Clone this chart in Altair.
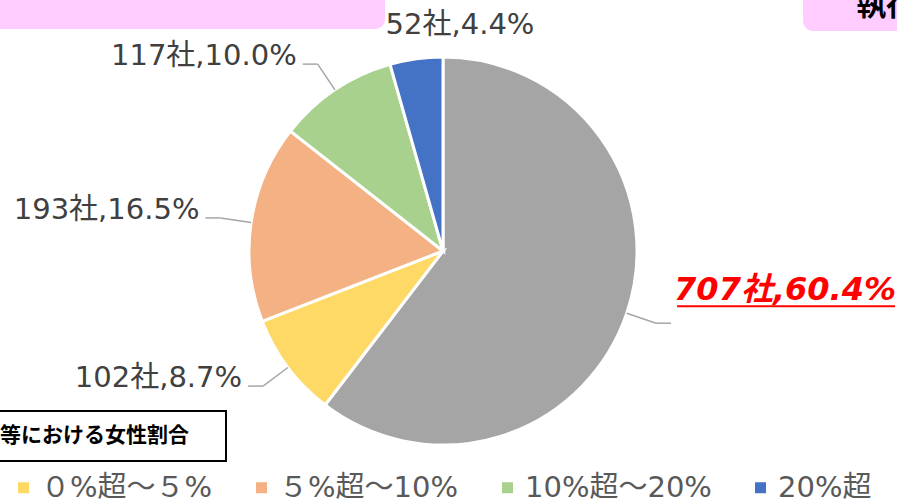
import altair as alt
import pandas as pd

# ---- data ----
categories = ["0%", "０%超～５%", "５%超～10%", "10%超～20%", "20%超"]
companies = [707, 102, 193, 117, 52]
shares = [60.4, 8.7, 16.5, 10.0, 4.4]
colors = ["#A5A5A5", "#FFD966", "#F4B183", "#A9D18E", "#4472C4"]
legend_items = categories[1:]
header_right = "執行役員等"
box_title = "等における女性割合"

labels = [f"{n}社,{p:.1f}%" for n, p in zip(companies, shares)]
df = pd.DataFrame({
    "cat": categories,
    "n": companies,
    "pct": shares,
    "order": list(range(len(categories))),
    "label": labels,
})
one = pd.DataFrame({"a": [0]})

# ---- layout ----
W, H = 897, 501
CX, CY, R = 443, 251, 194
FONT = "DejaVu Sans, Noto Sans CJK JP"
JP = "Noto Sans CJK JP"

base = alt.Chart(df)

pie = base.mark_arc(radius=R, stroke="white", strokeWidth=3).encode(
    theta=alt.Theta("pct:Q", stack=True),
    order=alt.Order("order:Q", sort="ascending"),
    color=alt.Color(
        "cat:N",
        scale=alt.Scale(domain=categories, range=colors),
        legend=alt.Legend(
            values=legend_items, orient="none", legendX=9, legendY=473,
            direction="horizontal", title=None, symbolType="square",
            symbolSize=121, symbolStrokeWidth=0, labelFont=FONT,
            labelFontSize=29, labelColor="#595959", labelOffset=3,
            columnPadding=34, labelLimit=500, padding=0,
        ),
    ),
    x=alt.value(CX),
    y=alt.value(CY),
)

geo = (
    base.transform_window(cum="sum(pct)", sort=[alt.SortField("order")], frame=[None, 0])
    .transform_joinaggregate(total="sum(pct)")
    .transform_calculate(ang="2*PI*(datum.cum - datum.pct/2)/datum.total")
    .transform_calculate(s="sin(datum.ang)")
    .transform_calculate(c="cos(datum.ang)")
    .transform_calculate(side="datum.s >= 0 ? 1 : -1")
    .transform_calculate(x0=f"{CX} + {R}*datum.s")
    .transform_calculate(y0=f"{CY} - {R}*datum.c")
    .transform_calculate(x1=f"{CX} + {R + 31}*datum.s")
    .transform_calculate(y1=f"{CY} - {R + 31}*datum.c")
    .transform_calculate(x2="datum.x1 + 15*datum.side")
    .transform_calculate(tx="datum.x1 + 21*datum.side")
)

def px(f):
    return alt.X(f, scale=None, axis=None)

def py(f):
    return alt.Y(f, scale=None, axis=None)

sides = geo.transform_filter("abs(datum.s) >= 0.2")
lead1 = sides.mark_rule(color="#A6A6A6", strokeWidth=1.5).encode(
    x=px("x0:Q"), y=py("y0:Q"), x2="x1:Q", y2="y1:Q")
lead2 = sides.mark_rule(color="#A6A6A6", strokeWidth=1.5).encode(
    x=px("x1:Q"), y=py("y1:Q"), x2="x2:Q", y2="y1:Q")

left_text = geo.transform_filter("datum.s <= -0.2").mark_text(
    align="right", baseline="middle", dy=-8, font=FONT, fontSize=29, color="#404040"
).encode(x=px("tx:Q"), y=py("y1:Q"), text="label:N")

top_text = geo.transform_filter("abs(datum.s) < 0.2").mark_text(
    align="center", baseline="middle", dx=48, dy=-3, font=FONT, fontSize=29, color="#404040"
).encode(x=px("x1:Q"), y=py("y1:Q"), text="label:N")

right = geo.transform_filter("datum.s >= 0.2")
right_text = right.mark_text(
    align="left", baseline="middle", dx=-3, dy=-33, font=FONT, fontSize=32,
    fontWeight="bold", fontStyle="italic", color="#FF0000"
).encode(x=px("tx:Q"), y=py("y1:Q"), text="label:N")
underline = right.transform_calculate(ux="datum.tx + 218").transform_calculate(
    uy="datum.y1 - 17").mark_rule(color="#FF0000", strokeWidth=2).encode(
    x=px("tx:Q"), x2="ux:Q", y=py("uy:Q"))

# ---- decorations ----
deco = alt.Chart(one)
pink_left = deco.mark_rect(color="#FFCCFF", cornerRadius=10).encode(
    x=alt.value(-20), x2=alt.value(385), y=alt.value(-20), y2=alt.value(29))
pink_right = deco.mark_rect(color="#FFCCFF", cornerRadius=10).encode(
    x=alt.value(803), x2=alt.value(930), y=alt.value(-20), y2=alt.value(31))
pink_text = deco.mark_text(
    align="left", baseline="alphabetic", font=JP, fontSize=30, fontWeight="bold", color="#000000"
).encode(x=alt.value(856), y=alt.value(15), text=alt.value(header_right))
box = deco.mark_rect(fill="white", stroke="black", strokeWidth=2).encode(
    x=alt.value(-10), x2=alt.value(226), y=alt.value(411), y2=alt.value(461))
box_text = deco.mark_text(
    align="right", baseline="middle", font=JP, fontSize=21, fontWeight="bold", color="#000000"
).encode(x=alt.value(189), y=alt.value(436), text=alt.value(box_title))

chart = alt.layer(
    pink_left, pink_right, pink_text, box, box_text,
    pie, lead1, lead2, left_text, top_text, right_text, underline,
).properties(
    width=W, height=H, autosize=alt.AutoSizeParams(type="none"), padding=0
).configure_view(stroke=None)

chart.save("out.html", embed_options={"renderer": "svg", "actions": False})
